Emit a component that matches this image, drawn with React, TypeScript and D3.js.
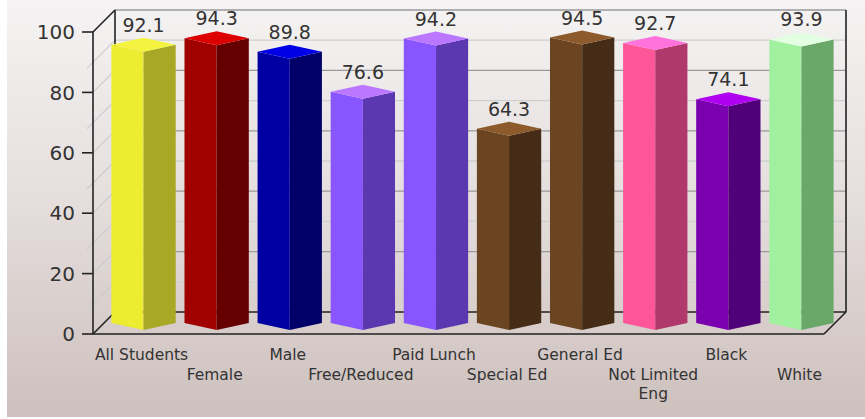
import React from "react";
import * as d3 from "d3";

// Percent of students meeting the standard, by student group
const categories = [
  "All Students",
  "Female",
  "Male",
  "Free/Reduced",
  "Paid Lunch",
  "Special Ed",
  "General Ed",
  "Not Limited Eng",
  "Black",
  "White",
];
const values = [92.1, 94.3, 89.8, 76.6, 94.2, 64.3, 94.5, 92.7, 74.1, 93.9];
// Wrapped axis labels (one entry per category)
const labelLines = [
  ["All Students"],
  ["Female"],
  ["Male"],
  ["Free/Reduced"],
  ["Paid Lunch"],
  ["Special Ed"],
  ["General Ed"],
  ["Not Limited", "Eng"],
  ["Black"],
  ["White"],
];
const yTicks = [0, 20, 40, 60, 80, 100];
const gridLevels = [10, 20, 30, 40, 50, 60, 70, 80, 90, 100];

// [front-left face, right face, top] per bar
const barColors = [
  ["#ecec30", "#a8a826", "#f4f440"],
  ["#a00000", "#660000", "#dd0000"],
  ["#0000a2", "#000068", "#0000e6"],
  ["#8855ff", "#5c38b0", "#bb77ff"],
  ["#8855ff", "#5c38b0", "#bb77ff"],
  ["#6b4422", "#452c16", "#8c5a2b"],
  ["#6b4422", "#452c16", "#8c5a2b"],
  ["#ff5599", "#b0386a", "#ff72dd"],
  ["#7a00b0", "#500078", "#b000f2"],
  ["#a0f0a0", "#6aa86a", "#e2ffe2"],
];

const W = 865;
const H = 419;
const FONT = "'DejaVu Sans', Verdana, sans-serif";

export default function App() {
  const x0 = 93;
  const x1 = 824;
  const depth = 22;
  const y = d3.scaleLinear().domain([0, 100]).range([334, 32]);
  const x = d3.scaleBand<string>().domain(categories).range([x0, x1]);
  const bw = x.bandwidth();
  const halfW = bw * 0.44;
  const rh = 7;
  const base = y(0) - depth / 2;

  const bars = categories.map((c, i) => {
    const cx = (x(c) as number) + bw / 2 + 14;
    const ty = base - (y(0) - y(values[i]));
    const pts = (p: number[][]) => p.map((q) => q.join(",")).join(" ");
    return {
      c,
      i,
      cx,
      ty,
      left: pts([
        [cx - halfW, ty],
        [cx, ty + rh],
        [cx, base + rh],
        [cx - halfW, base],
      ]),
      right: pts([
        [cx, ty + rh],
        [cx + halfW, ty],
        [cx + halfW, base],
        [cx, base + rh],
      ]),
      top: pts([
        [cx - halfW, ty],
        [cx, ty - rh],
        [cx + halfW, ty],
        [cx, ty + rh],
      ]),
    };
  });

  return (
    <svg
      width={W}
      height={H}
      style={{ position: "absolute", left: 0, top: 0, display: "block" }}
    >
      <defs>
        <linearGradient id="bg" x1="0" y1="0" x2="0" y2="1">
          <stop offset="0" stopColor="#f5f3f3" />
          <stop offset="0.5" stopColor="#e4dddc" />
          <stop offset="1" stopColor="#cdc0bd" />
        </linearGradient>
      </defs>
      <rect x={0} y={0} width={W} height={H} fill="#ffffff" />
      <rect x={7} y={0} width={W - 7} height={417} fill="url(#bg)" />

      {/* back wall grid */}
      {gridLevels.map((v) => (
        <line
          key={"g" + v}
          x1={x0 + depth}
          x2={x1 + depth}
          y1={y(v) - depth}
          y2={y(v) - depth}
          stroke={v % 20 === 0 ? "#9a9a9a" : "#cfcfcf"}
          strokeWidth={1.3}
        />
      ))}
      {/* side wall grid */}
      {gridLevels.slice(0, -1).map((v) => (
        <line
          key={"s" + v}
          x1={v % 20 === 0 ? x0 : x0 - 6}
          y1={v % 20 === 0 ? y(v) : y(v) + 6}
          x2={x0 + depth}
          y2={y(v) - depth}
          stroke="#cccccc"
          strokeWidth={1.2}
        />
      ))}

      {/* frame */}
      <g stroke="#222" strokeWidth={1.6} fill="none">
        <line x1={x0 + depth} y1={y(100) - depth} x2={x0 + depth} y2={y(0) - depth} />
        <line x1={x1 + depth} y1={y(100) - depth} x2={x1 + depth} y2={y(0) - depth} />
        <line x1={x0 + depth} y1={y(0) - depth} x2={x1 + depth} y2={y(0) - depth} />
        <line x1={x0} y1={y(100)} x2={x0 + depth} y2={y(100) - depth} />
        <line x1={x0} y1={y(0)} x2={x0 + depth} y2={y(0) - depth} />
        <line x1={x1} y1={y(0)} x2={x1 + depth} y2={y(0) - depth} />
        <line x1={x0} y1={y(100)} x2={x0} y2={y(0)} />
        <line x1={x0} y1={y(0)} x2={x1} y2={y(0)} />
        {yTicks.map((t) => (
          <line key={"t" + t} x1={x0 - 11} x2={x0} y1={y(t)} y2={y(t)} />
        ))}
      </g>

      {/* bars */}
      {bars.map((b) => (
        <g key={b.c}>
          <polygon points={b.left} fill={barColors[b.i][0]} />
          <polygon points={b.right} fill={barColors[b.i][1]} />
          <polygon points={b.top} fill={barColors[b.i][2]} />
        </g>
      ))}

      {/* value labels */}
      {bars.map((b) => (
        <text
          key={"v" + b.c}
          x={b.cx}
          y={b.ty - rh - 6}
          textAnchor="middle"
          fontFamily={FONT}
          fontSize={19}
          fill="#333"
        >
          {values[b.i].toFixed(1)}
        </text>
      ))}

      {/* y tick labels */}
      {yTicks.map((t) => (
        <text
          key={"yl" + t}
          x={x0 - 18}
          y={y(t)}
          dy="0.36em"
          textAnchor="end"
          fontFamily={FONT}
          fontSize={20}
          fill="#333"
        >
          {t}
        </text>
      ))}

      {/* category labels, staggered on two rows */}
      {bars.map((b) => (
        <text
          key={"c" + b.c}
          x={b.cx - 2}
          y={b.i % 2 === 0 ? 360 : 380}
          textAnchor="middle"
          fontFamily={FONT}
          fontSize={15.5}
          fill="#333"
        >
          {labelLines[b.i].map((ln, k) => (
            <tspan key={k} x={b.cx - 2} dy={k === 0 ? 0 : 19}>
              {ln}
            </tspan>
          ))}
        </text>
      ))}
    </svg>
  );
}
